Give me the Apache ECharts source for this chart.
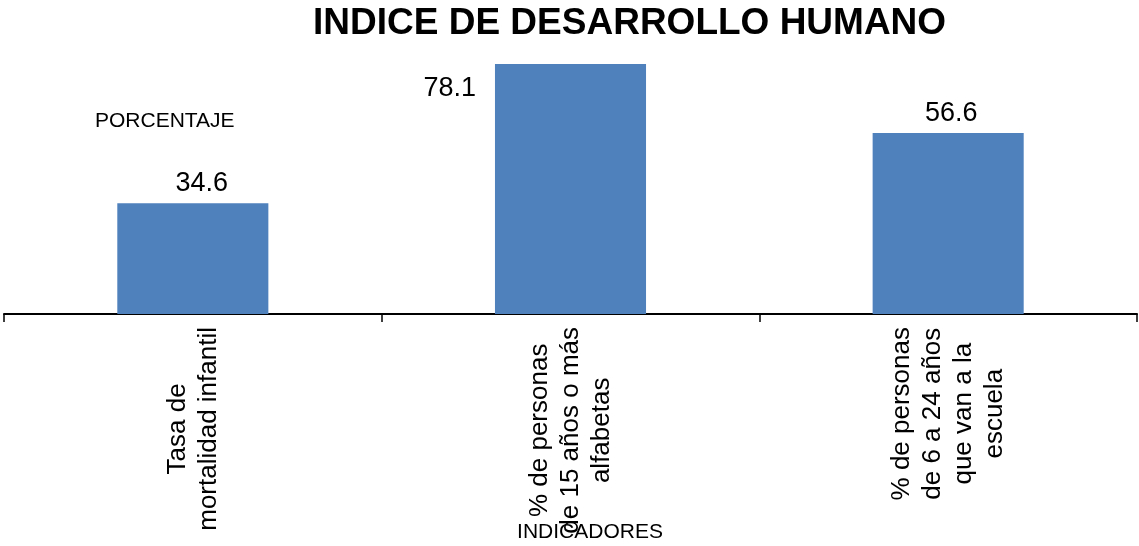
<!DOCTYPE html>
<html>
<head>
<meta charset="utf-8">
<script src="https://cdn.jsdelivr.net/npm/echarts@6/dist/echarts.min.js"></script>
<style>
  html, body { margin: 0; padding: 0; background: #fff; }
  #main { width: 1139px; height: 546px; }
</style>
</head>
<body>
<div id="main"></div>
<script>
// datos
const categorias = [
  'Tasa de\nmortalidad infantil',
  '% de personas\nde 15 años o más\nalfabetas',
  '% de personas\nde 6 a 24 años\nque van a la\nescuela'
];
const valores = [34.6, 78.1, 56.6];

const FONT = '"Liberation Sans", Arial, sans-serif';

let chartDom = document.getElementById('main');
let myChart = echarts.init(chartDom);
let option;

// posicion de cada etiqueta de valor (como en el original)
const etiquetas = [
  { position: 'top', distance: 6, offset: [9, 0] },
  { position: [-19, 24], align: 'right', verticalAlign: 'middle' },
  { position: 'top', distance: 6, offset: [3, 0] }
];

option = {
  animation: false,
  title: [
    {
      text: 'INDICE DE DESARROLLO HUMANO',
      left: 313,
      top: 5,
      padding: 0,
      textStyle: { fontFamily: FONT, fontSize: 37, fontWeight: 'bold', color: '#000' }
    },
    {
      text: 'PORCENTAJE',
      left: 95,
      top: 111,
      padding: 0,
      textStyle: { fontFamily: FONT, fontSize: 21, fontWeight: 'normal', color: '#000' }
    }
  ],
  grid: { left: 4, right: 2, top: 58, bottom: 232, containLabel: false, outerBoundsMode: 'none' },
  xAxis: {
    type: 'category',
    data: categorias,
    name: 'INDICADORES',
    nameLocation: 'middle',
    nameGap: 208,
    nameMoveOverlap: false,
    nameTextStyle: { fontFamily: FONT, fontSize: 21, color: '#000', padding: [0, 0, 0, 39] },
    axisLine: { lineStyle: { color: '#000', width: 2 } },
    axisTick: { show: true, length: 8, lineStyle: { color: '#000', width: 1.5 } },
    axisLabel: {
      interval: 0,
      rotate: 90,
      margin: 13,
      color: '#000',
      fontFamily: FONT,
      fontSize: 26,
      lineHeight: 31,
      formatter: function (v) {
        return v.split('\n').map(function (l) { return '{c|' + l + '}'; }).join('\n');
      },
      rich: {
        c: { align: 'center', fontFamily: FONT, fontSize: 26, lineHeight: 31, color: '#000' }
      }
    }
  },
  yAxis: {
    type: 'value',
    min: 0,
    max: 80,
    show: false,
    splitLine: { show: false }
  },
  series: [
    {
      type: 'bar',
      barCategoryGap: '60%',
      data: valores.map(function (v, i) {
        return { value: v, label: etiquetas[i] };
      }),
      itemStyle: { color: '#4F81BD' },
      label: {
        show: true,
        color: '#000',
        fontFamily: FONT,
        fontSize: 27
      }
    }
  ]
};
option && myChart.setOption(option);
</script>
</body>
</html>
